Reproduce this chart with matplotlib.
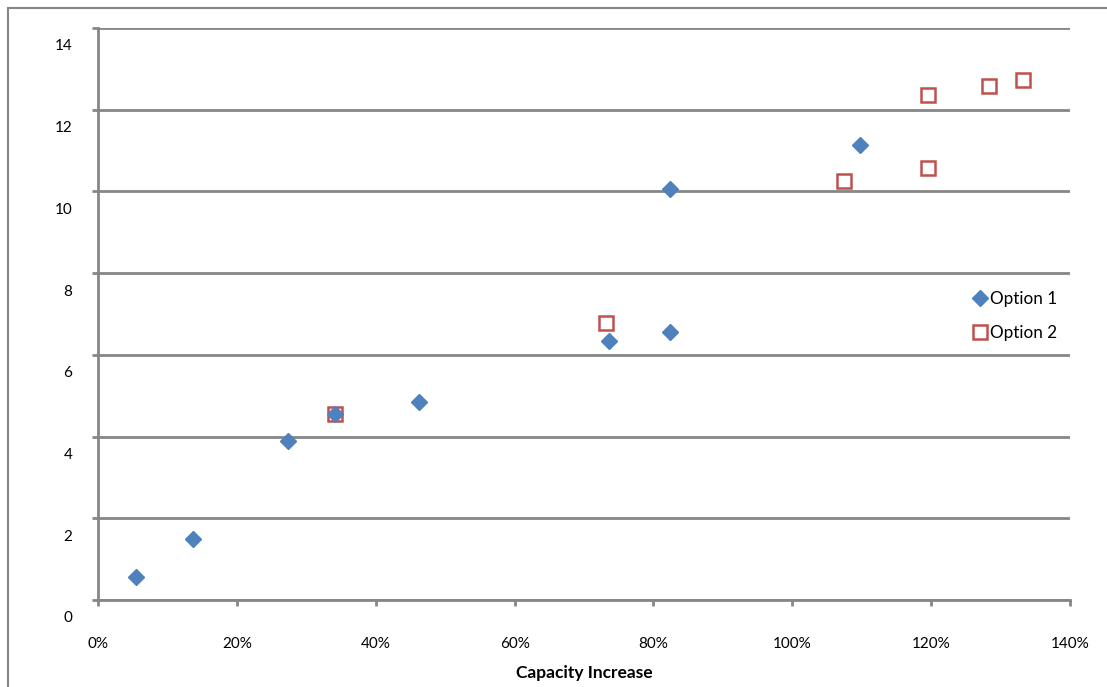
import matplotlib.pyplot as plt
import matplotlib.transforms as mtransforms
from matplotlib.patches import Rectangle
from matplotlib.ticker import FuncFormatter

plt.rcParams['font.family'] = ['Lato', 'DejaVu Sans']

opt1_x = [5.5, 13.7, 27.3, 34.1, 46.3, 73.6, 82.4, 82.4, 109.7]
opt1_y = [0.56, 1.49, 3.89, 4.55, 4.85, 6.34, 6.56, 10.06, 11.14]

opt2_x = [34.1, 73.2, 107.4, 119.6, 119.6, 128.4, 133.2]
opt2_y = [4.55, 6.78, 10.25, 10.57, 12.36, 12.58, 12.73]

x_ticks = [0, 20, 40, 60, 80, 100, 120, 140]
y_ticks = [0, 2, 4, 6, 8, 10, 12, 14]

grey = '#868686'
blue = '#4F81BD'
red = '#C0504D'

fig = plt.figure(figsize=(11.07, 6.87), dpi=100)
ax = fig.add_axes([98 / 1107, 1 - 600 / 687, 972 / 1107, 572 / 687])

# outer chart border
fig.patches.append(Rectangle((8 / 1107, -0.1), 1.2, 1 - 8 / 687 + 0.1,
                             transform=fig.transFigure, fill=False,
                             edgecolor=grey, linewidth=1.5))

ax.plot(opt2_x, opt2_y, linestyle='none', marker='s', markersize=10,
        markerfacecolor='white', markeredgecolor=red, markeredgewidth=1.8,
        label='Option 2', zorder=3)
ax.plot(opt1_x, opt1_y, linestyle='none', marker='D', markersize=8.2,
        color=blue, label='Option 1', zorder=4)

ax.set_xlim(0, 140)
ax.set_ylim(0, 14)
ax.set_xticks(x_ticks)
ax.set_yticks(y_ticks)
ax.xaxis.set_major_formatter(FuncFormatter(lambda v, p: f'{v:.0f}%'))

ax.grid(axis='y', color=grey, linewidth=2)
ax.set_axisbelow(True)
for s in ['top', 'right']:
    ax.spines[s].set_visible(False)
for s in ['left', 'bottom']:
    ax.spines[s].set_color(grey)
    ax.spines[s].set_linewidth(2)

ax.tick_params(axis='both', direction='out', color=grey, width=2, length=4.5,
               labelsize=11, labelcolor='black')
ax.tick_params(axis='x', pad=22)
ax.tick_params(axis='y', pad=14)

# Excel places value labels a bit below their gridlines
offset = mtransforms.ScaledTranslation(0, -17 / 100, fig.dpi_scale_trans)
for lbl in ax.get_yticklabels():
    lbl.set_transform(lbl.get_transform() + offset)

ax.set_xlabel('Capacity Increase', fontsize=12.5, fontweight='bold', labelpad=10)

handles, labels = ax.get_legend_handles_labels()
ax.legend(handles[::-1], labels[::-1], loc='center left',
          bbox_to_anchor=(856 / 972, 1 - (316 - 28) / 572), frameon=False,
          fontsize=12.3, handletextpad=0.0, handlelength=1.2,
          labelspacing=1.1)

fig.savefig('out.png', dpi=100)
